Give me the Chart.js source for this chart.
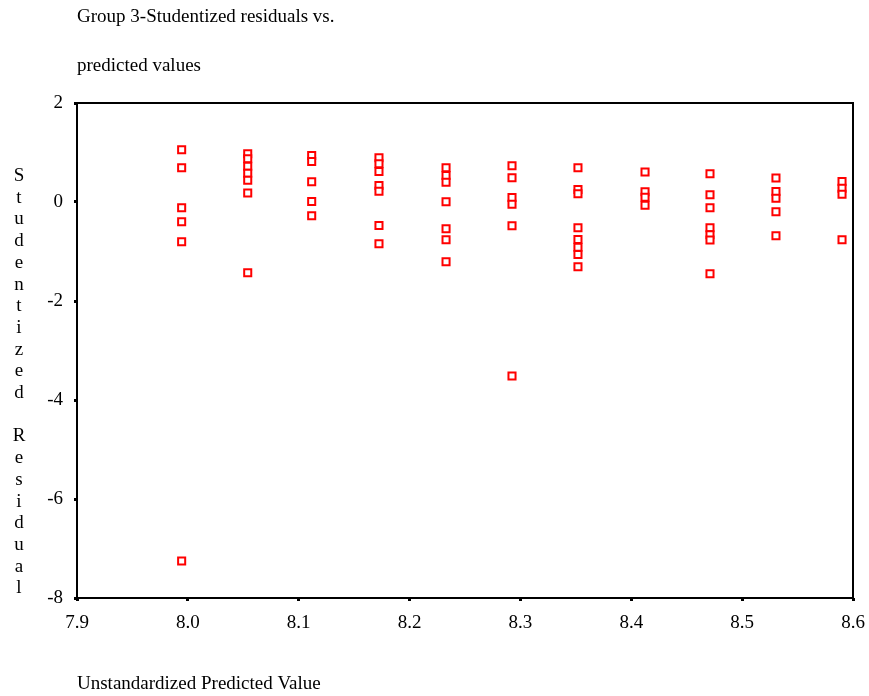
<!DOCTYPE html>
<html>
<head>
<meta charset="utf-8">
<title>Group 3-Studentized residuals vs. predicted values</title>
<script src="https://cdn.jsdelivr.net/npm/chart.js@4/dist/chart.umd.min.js"></script>
<style>
  html, body { margin: 0; padding: 0; background: #fff; }
  #wrap { width: 869px; height: 696px; position: relative; }
</style>
</head>
<body>
<div id="wrap"><canvas id="c" width="869" height="696"></canvas></div>
<script>
// Text
const titleLines = ['Group 3-Studentized residuals vs.', 'predicted values'];
const xTitle = 'Unstandardized Predicted Value';
const yTitle = 'Studentized Residual';

// Axis ranges and ticks
const xMin = 7.9, xMax = 8.6, xStep = 0.1;
const yMin = -8, yMax = 2, yStep = 2;

// Predicted value of each group, and the studentized residuals at that value
const predictedLevels = [7.9944, 8.0540, 8.1117, 8.1724, 8.2329, 8.2924, 8.3519, 8.4124, 8.4710, 8.5305, 8.5901];
const residualsByLevel = [
  [1.057, 0.693, -0.115, -0.398, -0.802, -7.253],
  [0.974, 0.873, 0.723, 0.582, 0.440, 0.182, -1.430],
  [0.939, 0.818, 0.408, 0.010, -0.279],
  [0.893, 0.772, 0.616, 0.333, 0.218, -0.475, -0.842],
  [0.691, 0.535, 0.400, 0.006, -0.539, -0.762, -1.206],
  [0.733, 0.491, 0.091, -0.044, -0.479, -3.515],
  [0.693, 0.253, 0.166, -0.519, -0.758, -0.913, -1.061, -1.307],
  [0.606, 0.208, 0.095, -0.067],
  [0.572, 0.147, -0.115, -0.519, -0.661, -0.768, -1.448],
  [0.485, 0.212, 0.077, -0.196, -0.681],
  [0.414, 0.279, 0.158, -0.762]
];

const points = [];
predictedLevels.forEach((x, i) => {
  residualsByLevel[i].forEach(r => points.push({ x: x, y: r }));
});

const FONT = '"Liberation Serif", "Times New Roman", serif';

// Frame around the plot plus the free-standing titles
const decorations = {
  id: 'decorations',
  afterDraw(chart) {
    const { ctx, chartArea: a } = chart;
    ctx.save();
    ctx.strokeStyle = '#000';
    ctx.lineWidth = 2;
    ctx.strokeRect(a.left, a.top, a.right - a.left, a.bottom - a.top);

    ctx.fillStyle = '#000';
    ctx.font = '19px ' + FONT;
    ctx.textAlign = 'left';
    ctx.textBaseline = 'alphabetic';
    ctx.fillText(titleLines[0], a.left, 22);
    ctx.fillText(titleLines[1], a.left, 71);
    ctx.fillText(xTitle, a.left, 689);

    // vertical, one letter per line
    ctx.textAlign = 'center';
    const chars = yTitle.split('');
    chars.forEach((ch, i) => {
      if (ch !== ' ') ctx.fillText(ch, 19, 181 + i * 21.7);
    });
    ctx.restore();
  }
};

new Chart(document.getElementById('c'), {
  type: 'scatter',
  data: {
    datasets: [{
      data: points,
      pointStyle: 'rect',
      pointRadius: 5,
      pointHoverRadius: 5,
      borderColor: '#ff0000',
      backgroundColor: '#ffffff',
      pointBorderWidth: 2,
      borderWidth: 2
    }]
  },
  options: {
    responsive: false,
    animation: false,
    layout: { padding: { top: 103, right: 16, bottom: 0, left: 0 } },
    plugins: { legend: { display: false }, tooltip: { enabled: false } },
    scales: {
      x: {
        type: 'linear',
        min: xMin, max: xMax,
        afterFit(s) {
          s.height = 98;
          s.paddingLeft = 0;
          s.paddingRight = 0;
        },
        afterBuildTicks(s) {
          const t = [];
          for (let v = xMin; v <= xMax + 1e-9; v += xStep) t.push({ value: +v.toFixed(1) });
          s.ticks = t;
        },
        border: { display: false },
        grid: { drawOnChartArea: false, drawTicks: true, tickLength: 3, tickWidth: 3, color: '#000' },
        ticks: {
          color: '#000',
          font: { family: FONT, size: 19 },
          padding: 11,
          maxRotation: 0,
          autoSkip: false,
          callback: v => Number(v).toFixed(1)
        }
      },
      y: {
        type: 'linear',
        min: yMin, max: yMax,
        afterFit(s) {
          s.width = 77;
          s.paddingTop = 0;
          s.paddingBottom = 0;
        },
        border: { display: false },
        grid: { drawOnChartArea: false, drawTicks: true, tickLength: 3, tickWidth: 3, color: '#000' },
        ticks: {
          stepSize: yStep,
          color: '#000',
          font: { family: FONT, size: 19 },
          padding: 11,
          autoSkip: false
        }
      }
    }
  },
  plugins: [decorations]
});
</script>
</body>
</html>
